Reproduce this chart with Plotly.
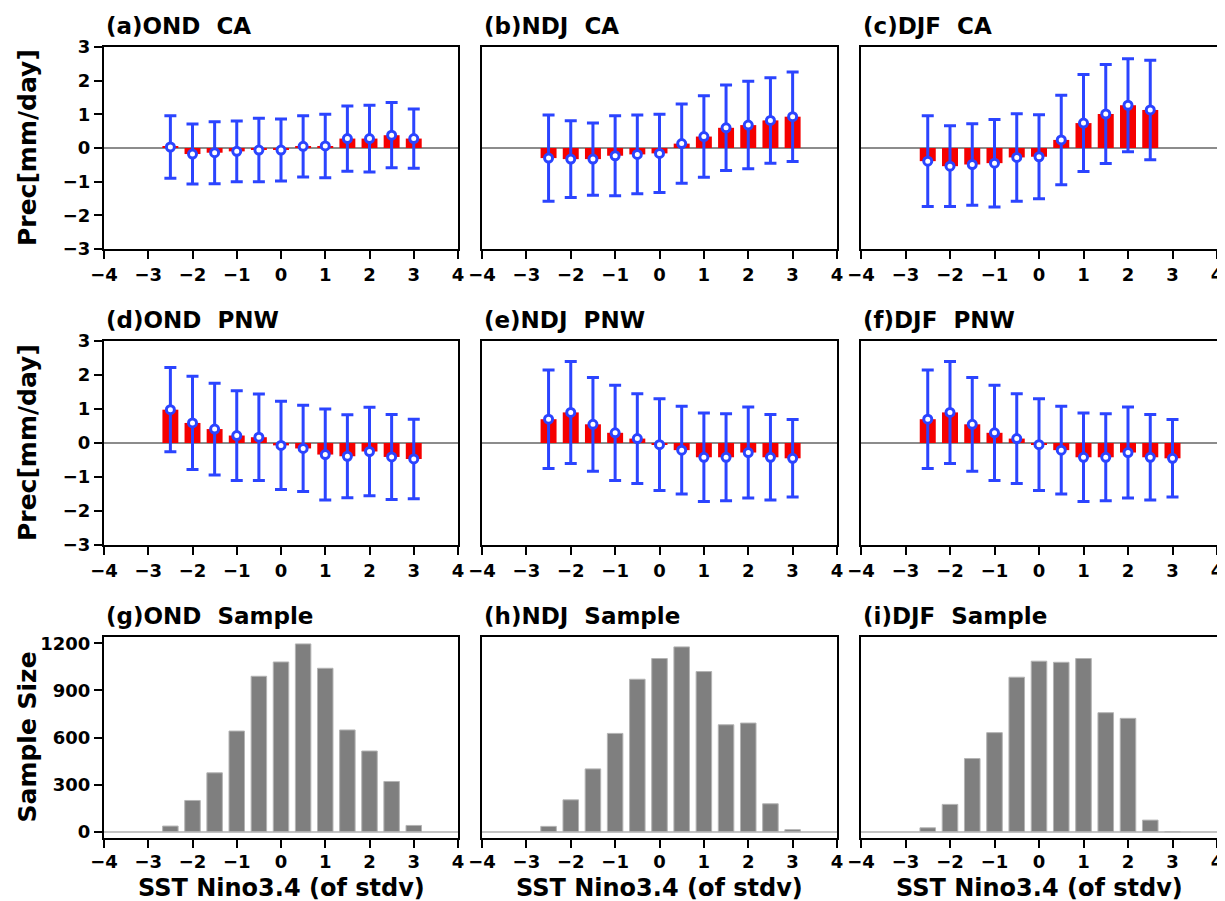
import plotly.graph_objects as go

# ---------------- data ----------------
sst_bins = [-2.5, -2.0, -1.5, -1.0, -0.5, 0.0, 0.5, 1.0, 1.5, 2.0, 2.5, 3.0]

ond_ca_mean = [0.03, -0.18, -0.14, -0.10, -0.06, -0.06, 0.05, 0.06, 0.28, 0.28, 0.38, 0.28]
ond_ca_std = [0.93, 0.89, 0.92, 0.90, 0.94, 0.92, 0.91, 0.94, 0.97, 0.99, 0.97, 0.88]

ndj_ca_mean = [-0.30, -0.33, -0.33, -0.23, -0.19, -0.16, 0.13, 0.34, 0.60, 0.68, 0.82, 0.93]
ndj_ca_std = [1.28, 1.14, 1.07, 1.19, 1.17, 1.16, 1.18, 1.21, 1.27, 1.30, 1.27, 1.33]

djf_ca_mean = [-0.39, -0.54, -0.49, -0.45, -0.28, -0.26, 0.24, 0.74, 1.01, 1.27, 1.13, None]
djf_ca_std = [1.35, 1.20, 1.21, 1.30, 1.30, 1.25, 1.33, 1.44, 1.47, 1.38, 1.48, None]

ond_pnw_mean = [0.98, 0.59, 0.41, 0.22, 0.17, -0.07, -0.16, -0.34, -0.39, -0.25, -0.41, -0.47]
ond_pnw_std = [1.24, 1.37, 1.35, 1.32, 1.27, 1.30, 1.27, 1.34, 1.22, 1.30, 1.25, 1.17]

ndj_pnw_mean = [0.70, 0.90, 0.55, 0.30, 0.13, -0.05, -0.21, -0.42, -0.42, -0.28, -0.42, -0.45]
ndj_pnw_std = [1.45, 1.50, 1.38, 1.40, 1.32, 1.35, 1.29, 1.30, 1.28, 1.34, 1.26, 1.14]

djf_pnw_mean = [0.70, 0.90, 0.55, 0.30, 0.13, -0.05, -0.21, -0.42, -0.42, -0.28, -0.42, -0.45]
djf_pnw_std = [1.45, 1.50, 1.38, 1.40, 1.32, 1.35, 1.29, 1.30, 1.28, 1.34, 1.26, 1.14]

ond_sample = [36, 199, 375, 641, 990, 1081, 1196, 1041, 648, 514, 320, 40]
ndj_sample = [34, 203, 400, 626, 971, 1103, 1177, 1020, 681, 692, 178, 13]
djf_sample = [25, 174, 466, 631, 984, 1086, 1079, 1103, 758, 722, 74, 0]

titles = [
    ["(a)OND  CA", "(b)NDJ  CA", "(c)DJF  CA"],
    ["(d)OND  PNW", "(e)NDJ  PNW", "(f)DJF  PNW"],
    ["(g)OND  Sample", "(h)NDJ  Sample", "(i)DJF  Sample"],
]
prec_ylabel = "Prec[mm/day]"
sample_ylabel = "Sample Size"
x_label = "SST Nino3.4 (of stdv)"
x_ticks = [-4, -3, -2, -1, 0, 1, 2, 3, 4]
prec_ticks = [-3, -2, -1, 0, 1, 2, 3]
sample_ticks = [0, 300, 600, 900, 1200]

# ---------------- layout constants ----------------
W, H = 1225, 901
OFF = 8  # page body margin: figure origin sits 8px into the window
col_px = [(104, 458), (482, 837), (861, 1217)]   # window pixel coords
row_px = [(47, 249), (341, 545), (637, 838)]
RED = "#f50000"
BLUE = "#2b44ff"
FONT = "DejaVu Sans"


def px_x(v):
    return (v - OFF) / W


def px_y(v):
    return 1 - (v - OFF) / H


def fnt(size):
    return dict(family=FONT, size=size, color="black", weight="bold")


fig = go.Figure()

prec_panels = [
    [(ond_ca_mean, ond_ca_std), (ndj_ca_mean, ndj_ca_std), (djf_ca_mean, djf_ca_std)],
    [(ond_pnw_mean, ond_pnw_std), (ndj_pnw_mean, ndj_pnw_std), (djf_pnw_mean, djf_pnw_std)],
]
samples = [ond_sample, ndj_sample, djf_sample]

annotations = []
idx = 0
for r in range(3):
    for c in range(3):
        idx += 1
        xa = "x" if idx == 1 else f"x{idx}"
        ya = "y" if idx == 1 else f"y{idx}"
        xkey = "xaxis" if idx == 1 else f"xaxis{idx}"
        ykey = "yaxis" if idx == 1 else f"yaxis{idx}"
        x0, x1 = col_px[c]
        y0, y1 = row_px[r]
        if r < 2:
            mean, std = prec_panels[r][c]
            fig.add_trace(go.Bar(x=sst_bins, y=mean, width=0.36,
                                 marker=dict(color=RED, line=dict(width=0)),
                                 xaxis=xa, yaxis=ya, showlegend=False))
            fig.add_trace(go.Scatter(x=sst_bins, y=mean, mode="markers",
                                     marker=dict(symbol="circle", size=8, color="white",
                                                 line=dict(color=BLUE, width=3)),
                                     error_y=dict(type="data", array=std, visible=True,
                                                  color=BLUE, thickness=3, width=6),
                                     xaxis=xa, yaxis=ya, showlegend=False))
            yrange = [-3, 3]
            ytickvals = prec_ticks
            zcol = "#8c8c8c"
            zw = 1.5
        else:
            fig.add_trace(go.Bar(x=sst_bins, y=samples[c], width=0.35,
                                 marker=dict(color="#7f7f7f", line=dict(color="#b4b4b4", width=1)),
                                 xaxis=xa, yaxis=ya, showlegend=False))
            yrange = [-40, 1240]
            ytickvals = sample_ticks
            zcol = "#c4c4c4"
            zw = 2
        fig.layout[xkey] = dict(
            domain=[px_x(x0), px_x(x1)], anchor=ya, range=[-4, 4], automargin=False,
            tickvals=x_ticks, ticks="outside", ticklen=8, tickwidth=2, tickcolor="black",
            showline=True, linecolor="black", linewidth=2, mirror=True,
            showgrid=False, zeroline=False, tickfont=fnt(18),
            ticklabelstandoff=(-2 if r == 2 else 0),
        )
        fig.layout[ykey] = dict(
            domain=[px_y(y1), px_y(y0)], anchor=xa, range=yrange, automargin=False,
            tickvals=ytickvals, showticklabels=(c == 0),
            ticks="outside" if c == 0 else "", ticklen=8, tickwidth=2, tickcolor="black",
            showline=True, linecolor="black", linewidth=2, mirror=True,
            showgrid=False, zeroline=True, zerolinecolor=zcol, zerolinewidth=zw,
            tickfont=fnt(18),
        )
        annotations.append(dict(
            text=titles[r][c], xref="paper", yref="paper",
            x=px_x(x0), y=px_y(y0 - 21), xanchor="left", yanchor="middle",
            showarrow=False, font=fnt(23),
        ))
        if c == 0:
            annotations.append(dict(
                text=prec_ylabel if r < 2 else sample_ylabel, textangle=-90,
                xref="paper", yref="paper", x=px_x(27), y=px_y((y0 + y1) / 2),
                xanchor="center", yanchor="middle", showarrow=False, font=fnt(25),
            ))
        if r == 2:
            annotations.append(dict(
                text=x_label, xref="paper", yref="paper",
                x=px_x((x0 + x1) / 2), y=px_y(888),
                xanchor="center", yanchor="middle", showarrow=False, font=fnt(24),
            ))

fig.update_layout(
    width=W, height=H, margin=dict(l=0, r=0, t=0, b=0, autoexpand=False),
    paper_bgcolor="white", plot_bgcolor="white", template="none",
    barmode="overlay", annotations=annotations, showlegend=False,
)

fig.write_html("out.html")
